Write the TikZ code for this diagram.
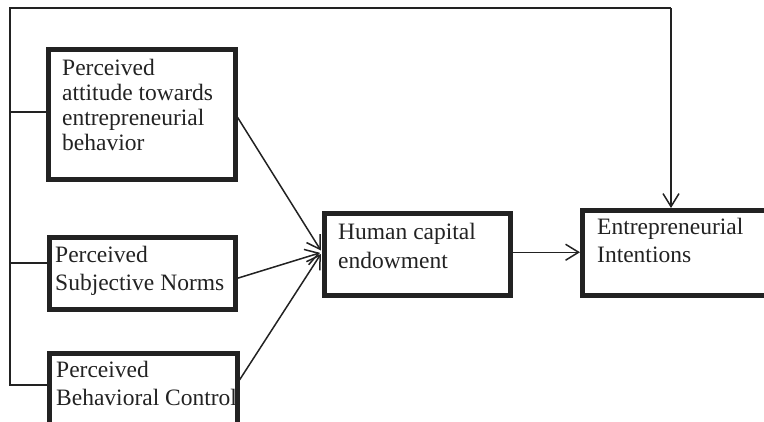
\documentclass[tikz,border=0pt]{standalone}
\usepackage{fontspec}
\setmainfont{Liberation Serif}
\usetikzlibrary{arrows.meta}
\definecolor{ink}{HTML}{222222}
\begin{document}
\begin{tikzpicture}[x=1pt,y=-1pt,
  boxnode/.style={draw=ink,line width=4.5pt,rectangle,inner sep=0pt,anchor=north west},
  txt/.style={inner sep=0pt,anchor=north west,align=left,text=ink},
  conn/.style={draw=ink,line width=1.5pt},
  arr/.style={conn,-{Straight Barb[length=13pt,width=16pt,line width=1.5pt]}}]
\useasboundingbox (0,0) rectangle (764,421);
% boxes
\node[boxnode,minimum width=187pt,minimum height=130pt] (b1) at (46,47) {};
\node[boxnode,minimum width=186pt,minimum height=72pt] (b2) at (47,235) {};
\node[boxnode,minimum width=188pt,minimum height=90pt] (b3) at (47,351) {};
\node[boxnode,minimum width=186pt,minimum height=82pt] (b4) at (322,211) {};
\node[boxnode,minimum width=200pt,minimum height=85pt] (b5) at (580,208) {};
% texts
\node[txt,font=\fontsize{23.5}{25}\selectfont] (t1) at (62,58.5) {Perceived\\attitude towards\\entrepreneurial\\behavior};
\node[txt,font=\fontsize{23.5}{28}\selectfont] (t2) at (55,245.5) {Perceived\\Subjective Norms};
\node[txt,font=\fontsize{23.5}{28}\selectfont] (t3) at (56,360.5) {Perceived\\Behavioral Control};
\node[txt,font=\fontsize{23.5}{29}\selectfont] (t4) at (338,222.5) {Human capital\\endowment};
\node[txt,font=\fontsize{23.5}{28}\selectfont] (t5) at (597,217.5) {Entrepreneurial\\Intentions};
% rail
\coordinate (rtop) at (10,8);
\coordinate (rtr) at (671,8);
\coordinate (r1) at (10,112);
\coordinate (r2) at (10,263);
\coordinate (r3) at (10,385);
\draw[conn] (r3 -| b3.west) -- (r3) -- (rtop) -- (rtr);
\draw[arr] (rtr) -- (rtr |- b5.north);
\draw[conn] (r1) -- (r1 -| b1.west);
\draw[conn] (r2) -- (r2 -| b2.west);
% arrows into b4
\coordinate (h) at ([yshift=2pt]b4.west);
\draw[arr,shorten >=2pt] ([yshift=-3pt]b1.east) -- (h);
\draw[arr,shorten >=2pt] ([yshift=-5pt]b2.east) -- (h);
\draw[arr,shorten >=2pt] ([yshift=-29pt]b3.north east) -- (h);
\draw[arr] ([yshift=2pt]b4.east) -- ([yshift=2pt]b4.east -| b5.west);
\end{tikzpicture}
\end{document}
